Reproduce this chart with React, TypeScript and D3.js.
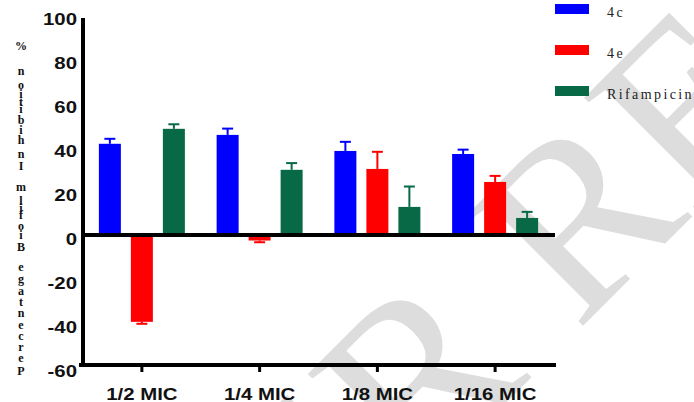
import React, { useMemo } from "react";
import * as d3 from "d3";

const categories = ["1/2 MIC", "1/4 MIC", "1/8 MIC", "1/16 MIC"];
const seriesNames = ["4c", "4e", "Rifampicin"];
const seriesColors = ["#0000ff", "#ff0000", "#076946"];
const means4c = [42.0, 46.1, 38.7, 37.3];
const err4c = [2.3, 2.9, 4.2, 2.0];
const means4e = [-40.1, -2.6, 30.4, 24.4];
const err4e = [0.9, 0.8, 7.9, 2.8];
const meansRif = [48.9, 30.0, 12.9, 7.8];
const errRif = [2.1, 3.1, 9.4, 2.8];
const yTicks = [100, 80, 60, 40, 20, 0, -20, -40, -60];
const yLabelText = "Percentage Biofilm Inhibition %";
const watermarkLeft = "UNDER";
const watermarkRight = "REVIEW";

const W = 694;
const H = 402;

export default function App() {
  const x = d3.scaleBand<string>().domain(categories).range([83, 554]);
  const y = d3.scaleLinear().domain([-60, 100]).range([365, 18]);
  const inner = d3.scaleBand<string>().domain(seriesNames).range([-44, 44]).paddingInner(0.25);
  const barW = 22;
  const means = [means4c, means4e, meansRif];
  const errs = [err4c, err4e, errRif];

  const labelChars = useMemo(() => {
    const chars = yLabelText.split("");
    let widths: number[] = chars.map(() => 10);
    try {
      const c = document.createElement("canvas").getContext("2d");
      if (c) {
        c.font = "bold 22px 'Liberation Serif'";
        widths = chars.map((ch) => c.measureText(ch).width);
      }
    } catch (e) {}
    const centers: number[] = [];
    let acc = 0;
    widths.forEach((w) => {
      centers.push(acc + w / 2);
      acc += w;
    });
    const pos = d3
      .scaleLinear()
      .domain([centers[0], centers[centers.length - 1]])
      .range([371, 46]);
    return chars.map((ch, i) => ({ ch, y: pos(centers[i]) }));
  }, []);

  return (
    <svg width={W} height={H} style={{ position: "absolute", left: 0, top: 0, background: "#fff" }}>
      {/* watermark */}
      <g transform="translate(495,295) rotate(-45)" fill="#dddddd" fontFamily="'Liberation Serif', serif" fontSize={245}>
        <text x={-32} y={84} textAnchor="end">{watermarkLeft}</text>
        <text x={32} y={84} textAnchor="start">{watermarkRight}</text>
      </g>

      {/* bars */}
      {seriesNames.map((s, si) => (
        <g key={s}>
          {categories.map((c, ci) => {
            const v = means[si][ci];
            const e = errs[si][ci];
            const cx = (x(c) as number) + x.bandwidth() / 2 + (inner(s) as number) + inner.bandwidth() / 2;
            const y0 = y(0);
            const y1 = y(v);
            const ye = y(v >= 0 ? v + e : v - e);
            return (
              <g key={c}>
                <rect x={cx - barW / 2} y={Math.min(y0, y1)} width={barW} height={Math.abs(y1 - y0)} fill={seriesColors[si]} />
                <line x1={cx} x2={cx} y1={y1} y2={ye} stroke={seriesColors[si]} strokeWidth={2} />
                <line x1={cx - 5.5} x2={cx + 5.5} y1={ye} y2={ye} stroke={seriesColors[si]} strokeWidth={2} />
              </g>
            );
          })}
        </g>
      ))}

      {/* axes */}
      <line x1={83} x2={83} y1={18} y2={367} stroke="#000" strokeWidth={4} />
      <line x1={79} x2={556} y1={365} y2={365} stroke="#000" strokeWidth={4} />
      <line x1={83} x2={555} y1={y(0)} y2={y(0)} stroke="#000" strokeWidth={4} />
      {categories.map((c) => {
        const cx = (x(c) as number) + x.bandwidth() / 2;
        return (
          <g key={c}>
            <line x1={cx} x2={cx} y1={365} y2={372} stroke="#000" strokeWidth={3} />
            <text
              transform={`translate(${cx},400) scale(1.2,1)`}
              textAnchor="middle"
              fontFamily="'Liberation Sans', Arial, sans-serif"
              fontWeight="bold"
              fontSize={17}
              fill="#111"
            >
              {c}
            </text>
          </g>
        );
      })}
      {yTicks.map((t) => (
        <text
          key={t}
          transform={`translate(77,${y(t) + 7 + (100 - t) * 0.03}) scale(1.2,1)`}
          textAnchor="end"
          fontFamily="'Liberation Sans', Arial, sans-serif"
          fontWeight="bold"
          fontSize={17}
          fill="#111"
        >
          {t}
        </text>
      ))}

      {/* y axis label, glyphs stacked */}
      {labelChars.map((d, i) => (
        <text
          key={i}
          x={21}
          y={d.y}
          textAnchor="middle"
          dominantBaseline="central"
          fontFamily="'Liberation Serif', serif"
          fontWeight="bold"
          fontSize={12}
          fill="#111"
        >
          {d.ch}
        </text>
      ))}

      {/* legend */}
      {seriesNames.map((s, i) => (
        <g key={s} transform={`translate(555,${4 + i * 41})`}>
          <rect x={0} y={0} width={34} height={10} fill={seriesColors[i]} />
          <text x={52} y={13} fontFamily="'Liberation Serif', serif" fontSize={14} letterSpacing={2.4} fill="#222">
            {s}
          </text>
        </g>
      ))}
    </svg>
  );
}
